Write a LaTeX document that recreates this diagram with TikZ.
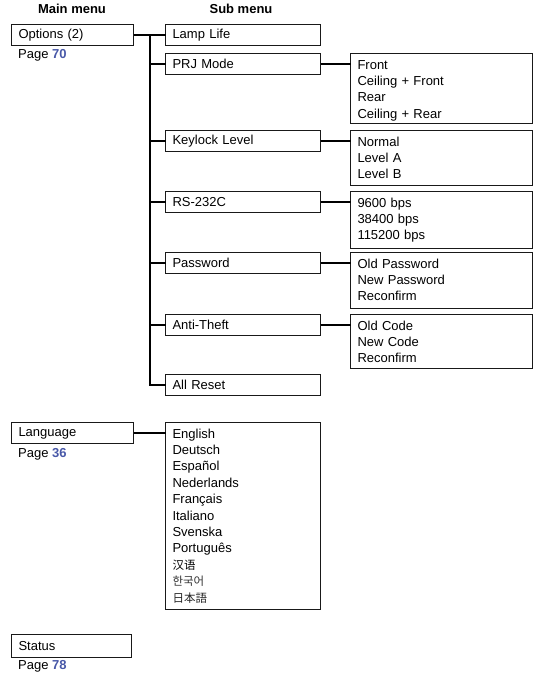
\documentclass[tikz,border=0pt]{standalone}
\usepackage{fontspec}
\setmainfont{Liberation Sans}
\newfontfamily\cjksc{Noto Sans CJK SC}
\newfontfamily\cjkkr{Noto Sans CJK KR}
\newfontfamily\cjkjp{Noto Sans CJK JP}
\definecolor{pagenum}{RGB}{72,88,168}
\begin{document}
\begin{tikzpicture}[x=1pt,y=-1pt,
  every node/.style={font=\fontsize{13}{16.4}\selectfont},
  box/.style={draw=black!90,line width=1pt,outer sep=0pt,anchor=north west,align=left,
    inner xsep=7pt,inner ysep=0pt,minimum height=21pt},
  mainbox/.style={box,text width=108pt,minimum width=122pt},
  subbox/.style={box,text width=141pt,minimum width=155pt},
  listbox/.style={box,text width=168pt,minimum width=182pt,minimum height=0pt,text height=15.6pt},
  langbox/.style={box,text width=141pt,minimum width=155pt,minimum height=0pt,text height=15.6pt},
  conn/.style={line width=2pt,black},
  header/.style={font=\fontsize{13}{16}\selectfont\bfseries},
  pageref/.style={anchor=base west,inner sep=0pt}
]
\useasboundingbox (0,0) rectangle (535,677);

% headers
\node[header] (hmain) at (72,9) {Main menu};
\node[header] (hsub) at (241,9) {Sub menu};

% main menu items
\node[mainbox] (opt) at (11.5,24.5) {Options (2)};
\node[pageref] (p70) at (18,58.5) {Page \textcolor{pagenum}{\textbf{70}}};
\node[mainbox] (lang) at (11.5,422.5) {Language};
\node[pageref] (p36) at (18,457) {Page \textcolor{pagenum}{\textbf{36}}};
\node[box,text width=106pt,minimum width=120pt,minimum height=23pt] (status) at (11.5,634.5) {Status};
\node[pageref] (p78) at (18,669) {Page \textcolor{pagenum}{\textbf{78}}};

% sub menu items
\node[subbox] (lamp) at (165.5,24.5) {Lamp Life};
\node[subbox] (prj) at (165.5,53.5) {PRJ Mode};
\node[subbox] (key) at (165.5,130.5) {Keylock Level};
\node[subbox] (rs) at (165.5,191.5) {RS-232C};
\node[subbox] (pw) at (165.5,252.5) {Password};
\node[subbox] (anti) at (165.5,314.5) {Anti-Theft};
\node[subbox] (reset) at (165.5,374.5) {All Reset};

% option lists
\node[listbox,text depth=54.4pt] (prjlist) at (350.5,53.5)
  {Front\\Ceiling + Front\\Rear\\Ceiling + Rear};
\node[listbox,text depth=39.4pt] (keylist) at (350.5,130.5)
  {Normal\\Level A\\Level B};
\node[listbox,text depth=41.4pt] (rslist) at (350.5,191.5)
  {9600 bps\\38400 bps\\115200 bps};
\node[listbox,text depth=40.4pt] (pwlist) at (350.5,252.5)
  {Old Password\\New Password\\Reconfirm};
\node[listbox,text depth=38.4pt] (antilist) at (350.5,314.5)
  {Old Code\\New Code\\Reconfirm};
\node[langbox,text depth=171.4pt] (langlist) at (165.5,422.5)
  {English\\Deutsch\\Español\\Nederlands\\Français\\Italiano\\Svenska\\Português\\
   {\cjksc\fontsize{11.5}{16.4}\selectfont 汉语}\\
   {\cjkkr\fontsize{11.5}{16.4}\selectfont\color{black!80} 한국어}\\
   {\cjkjp\fontsize{11.5}{16.4}\selectfont\color{black!85} 日本語}};

% trunk
\coordinate (tk) at (150,0);
\draw[conn] (opt.east) -- (lamp.west);
\draw[conn] (opt.east -| tk) |- (reset.west);
\foreach \n in {prj,key,rs,pw,anti}
  \draw[conn] (\n.west -| tk) -- (\n.west);

% right connectors
\draw[conn] (prj.east) -- (prj.east -| prjlist.west);
\draw[conn] (key.east) -- (key.east -| keylist.west);
\draw[conn] (rs.east) -- (rs.east -| rslist.west);
\draw[conn] (pw.east) -- (pw.east -| pwlist.west);
\draw[conn] (anti.east) -- (anti.east -| antilist.west);
\draw[conn] (lang.east) -- (lang.east -| langlist.west);
\end{tikzpicture}
\end{document}
